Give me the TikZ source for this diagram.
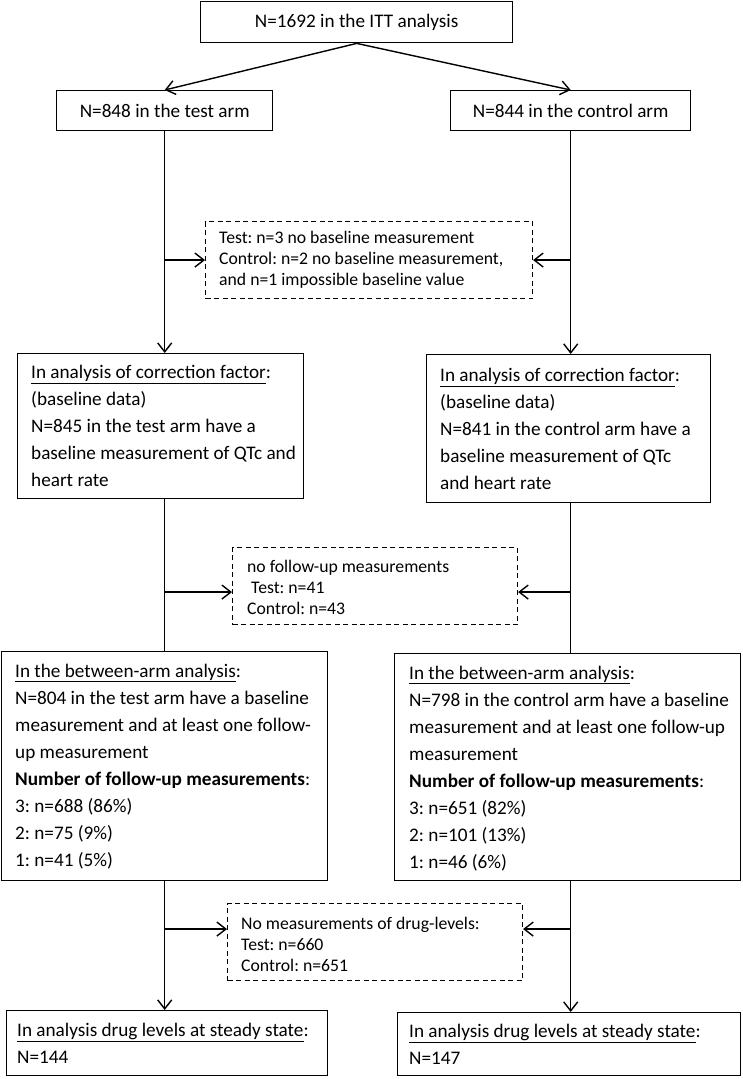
\documentclass[tikz,border=0pt]{standalone}
\usepackage{fontspec}
\setmainfont{Carlito}
\usetikzlibrary{arrows.meta}
\frenchspacing
\begin{document}
\begin{tikzpicture}[x=1pt,y=-1pt,
  frame/.style={draw, line width=1.4pt, anchor=north west, inner sep=0pt},
  dframe/.style={draw, line width=1.1pt, dash pattern=on 5pt off 3.5pt, anchor=north west, inner sep=0pt},
  txt/.style={anchor=west, align=left, inner sep=0pt, font=\fontsize{19.2}{27}\selectfont\frenchspacing},
  dtxt/.style={anchor=west, align=left, inner sep=0pt, font=\fontsize{17.7}{21}\selectfont\frenchspacing},
  ctxt/.style={anchor=center, inner sep=0pt, font=\fontsize{19.2}{23}\selectfont},
  arr/.style={line width=1.4pt, -{Straight Barb[length=9pt,width=14pt,line width=1.4pt]}},
  ln/.style={line width=1.4pt}]
\useasboundingbox (0,0) rectangle (742,1079);

% top row
\node[frame, minimum width=312pt, minimum height=41pt] (top) at (200,1) {};
\node[ctxt] (topt) at (top.center) {N=1692 in the ITT analysis};
\node[frame, minimum width=216pt, minimum height=40pt] (testarm) at (56,90) {};
\node[ctxt] (testarmt) at (testarm.center) {N=848 in the test arm};
\node[frame, minimum width=240pt, minimum height=40pt] (ctrlarm) at (450,90) {};
\node[ctxt] (ctrlarmt) at (ctrlarm.center) {N=844 in the control arm};

% exclusion 1
\node[dframe, minimum width=327pt, minimum height=77pt] (ex1) at (205,221) {};
\node[dtxt] (ex1t) at ([xshift=14pt]ex1.west) {Test: n=3 no baseline measurement\\Control: n=2 no baseline measurement,\\and n=1 impossible baseline value};

% correction factor
\node[frame, minimum width=286pt, minimum height=145pt] (corrL) at (17,353) {};
\node[txt] (corrLt) at ([xshift=14pt]corrL.west) {\underline{In analysis of correction factor}:\\(baseline data)\\N=845 in the test arm have a\\baseline measurement of QTc and\\heart rate};
\node[frame, minimum width=284pt, minimum height=148pt] (corrR) at (426,354) {};
\node[txt] (corrRt) at ([xshift=14pt]corrR.west) {\underline{In analysis of correction factor}:\\(baseline data)\\N=841 in the control arm have a\\baseline measurement of QTc\\and heart rate};

% exclusion 2
\node[dframe, minimum width=285pt, minimum height=77pt] (ex2) at (232,547) {};
\node[dtxt] (ex2t) at ([xshift=15pt,yshift=-1pt]ex2.west) {no follow-up measurements\\\ Test: n=41\\Control: n=43};

% between-arm
\node[frame, minimum width=326pt, minimum height=229pt] (betL) at (1,651) {};
\node[txt] (betLt) at ([xshift=14pt]betL.west) {\underline{In the between-arm analysis}:\\N=804 in the test arm have a baseline\\measurement and at least one follow-\\up measurement\\\textbf{Number of follow-up measurements}:\\3: n=688 (86\%)\\2: n=75 (9\%)\\1: n=41 (5\%)};
\node[frame, minimum width=346pt, minimum height=227pt] (betR) at (394,653) {};
\node[txt] (betRt) at ([xshift=15pt,yshift=-1pt]betR.west) {\underline{In the between-arm analysis}:\\N=798 in the control arm have a baseline\\measurement and at least one follow-up\\measurement\\\textbf{Number of follow-up measurements}:\\3: n=651 (82\%)\\2: n=101 (13\%)\\1: n=46 (6\%)};

% exclusion 3
\node[dframe, minimum width=295pt, minimum height=77pt] (ex3) at (227,903) {};
\node[dtxt] (ex3t) at ([xshift=14pt,yshift=-2pt]ex3.west) {No measurements of drug-levels:\\Test: n=660\\Control: n=651};

% drug levels
\node[frame, minimum width=321pt, minimum height=65pt] (drugL) at (6,1010) {};
\node[txt] (drugLt) at ([xshift=11pt]drugL.west) {\underline{In analysis drug levels at steady state}:\\N=144};
\node[frame, minimum width=343pt, minimum height=63pt] (drugR) at (397,1012) {};
\node[txt] (drugRt) at ([xshift=12pt]drugR.west) {\underline{In analysis drug levels at steady state}:\\N=147};

% connectors
\draw[arr] (top.south) -- (testarm.north);
\draw[arr] (top.south) -- (ctrlarm.north);

\draw[arr] (testarm.south) -- (testarm.south |- corrL.north);
\draw[arr] (testarm.south |- ex1.west) -- (ex1.west);
\draw[arr] (ctrlarm.south) -- (ctrlarm.south |- corrR.north);
\draw[arr] (ctrlarm.south |- ex1.east) -- (ex1.east);

\draw[ln] (testarm.south |- corrL.south) -- (testarm.south |- betL.north);
\draw[arr] (testarm.south |- ex2.west) ++(0,6) coordinate (b2L) -- (b2L -| ex2.west);
\draw[ln] (ctrlarm.south |- corrR.south) -- (ctrlarm.south |- betR.north);
\draw[arr] (ctrlarm.south |- ex2.east) ++(0,6) coordinate (b2R) -- (b2R -| ex2.east);

\draw[arr] (testarm.south |- betL.south) -- (testarm.south |- drugL.north);
\draw[arr] (testarm.south |- ex3.west) ++(0,-13) coordinate (b3L) -- (b3L -| ex3.west);
\draw[arr] (ctrlarm.south |- betR.south) -- (ctrlarm.south |- drugR.north);
\draw[arr] (ctrlarm.south |- ex3.east) ++(0,-13) coordinate (b3R) -- (b3R -| ex3.east);
\end{tikzpicture}
\end{document}
